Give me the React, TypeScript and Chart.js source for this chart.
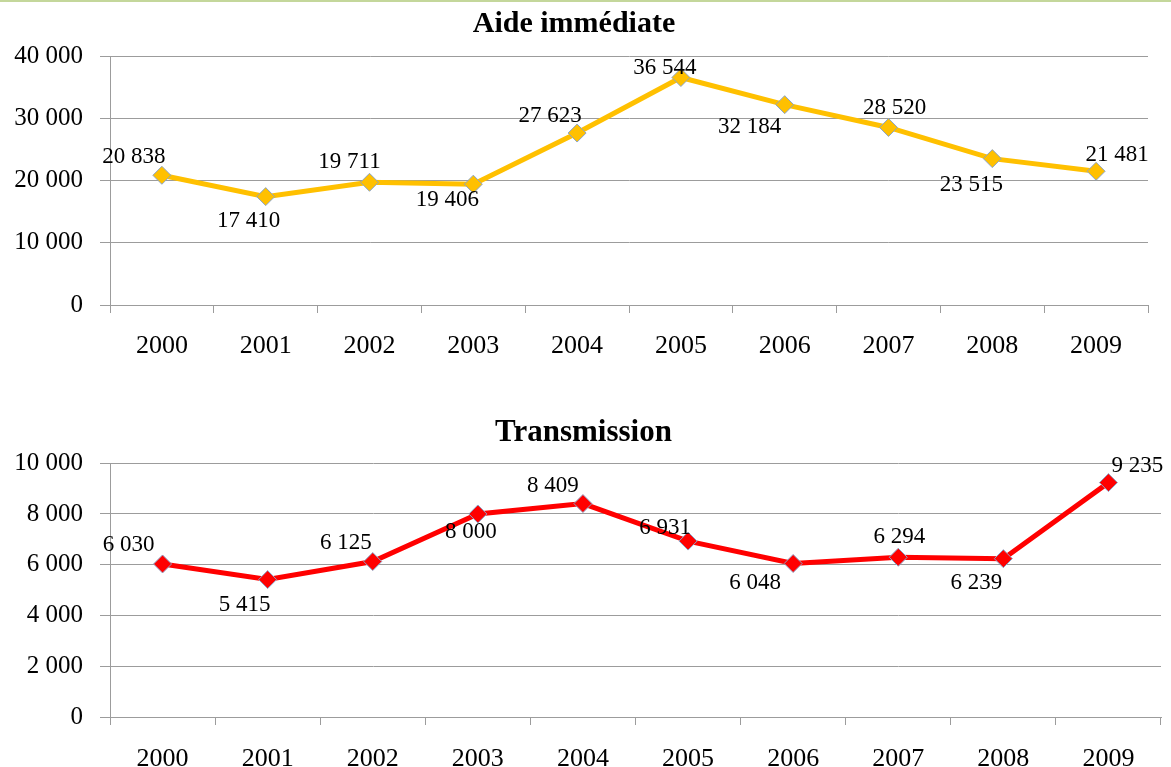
import React, { useEffect, useRef } from 'react';
import { Chart, registerables } from 'chart.js';

Chart.register(...registerables);

const YEARS = ['2000', '2001', '2002', '2003', '2004', '2005', '2006', '2007', '2008', '2009'];
const AIDE_VALUES = [20838, 17410, 19711, 19406, 27623, 36544, 32184, 28520, 23515, 21481];
const TRANS_VALUES = [6030, 5415, 6125, 8000, 8409, 6931, 6048, 6294, 6239, 9235];
const AIDE_Y_MAX = 40000;
const AIDE_Y_STEP = 10000;
const TRANS_Y_MAX = 10000;
const TRANS_Y_STEP = 2000;
const AIDE_TITLE = 'Aide immédiate';
const TRANS_TITLE = 'Transmission';

// label placement relative to each point (styling)
const AIDE_LABEL_OFFSETS = [[-28, -18], [-17, 24], [-20, -20], [-26, 16], [-27, -17], [-16, -10], [-35, 22], [6, -20], [-21, 26], [21, -16]];
const TRANS_LABEL_OFFSETS = [[-34, -19], [-23, 25], [-27, -19], [-7, 18], [-30, -18], [-23, -13], [-38, 19], [1, -20], [-27, 24], [29, -17]];

const FONT = "'Liberation Serif', 'Times New Roman', serif";
const GRID = '#9c9c9c';

const fmt = (v: number) => String(Math.round(v)).replace(/\B(?=(\d{3})+(?!\d))/g, ' ');

const labelsPlugin = {
  id: 'pointLabels',
  afterDatasetsDraw(chart: any, _args: any, opts: any) {
    const ctx = chart.ctx;
    const meta = chart.getDatasetMeta(0);
    const data = chart.data.datasets[0].data as number[];
    const offs = opts.offsets as number[][];
    ctx.save();
    ctx.font = `23px ${FONT}`;
    ctx.fillStyle = '#000';
    ctx.textAlign = 'center';
    ctx.textBaseline = 'middle';
    meta.data.forEach((pt: any, i: number) => {
      const o = offs[i] || [0, -18];
      ctx.fillText(fmt(data[i]), pt.x + o[0], pt.y + o[1]);
    });
    ctx.restore();
  },
};

type Cfg = {
  title: string;
  values: number[];
  max: number;
  step: number;
  color: string;
  offsets: number[][];
  titleSize: number;
  titlePadTop: number;
  titlePadBottom: number;
  xHeight: number;
  xPad: number;
  rightPad: number;
  height: number;
};

function LineChart({ cfg }: { cfg: Cfg }) {
  const ref = useRef<HTMLCanvasElement>(null);
  useEffect(() => {
    if (!ref.current) return;
    const chart = new Chart(ref.current, {
      type: 'line',
      data: {
        labels: YEARS,
        datasets: [
          {
            data: cfg.values,
            borderColor: cfg.color,
            backgroundColor: cfg.color,
            borderWidth: 5,
            pointStyle: 'rectRot',
            pointRadius: 9,
            pointBackgroundColor: cfg.color,
            pointBorderColor: '#8aa4c8',
            pointBorderWidth: 1,
            tension: 0,
          },
        ],
      },
      options: {
        responsive: false,
        animation: false,
        devicePixelRatio: 1,
        layout: { padding: { left: 0, right: cfg.rightPad, top: 0, bottom: 0 } },
        plugins: {
          legend: { display: false },
          tooltip: { enabled: false },
          title: {
            display: true,
            text: cfg.title,
            color: '#000',
            font: { family: FONT, size: cfg.titleSize, weight: 'bold' },
            padding: { top: cfg.titlePadTop, bottom: cfg.titlePadBottom },
          },
          pointLabels: { offsets: cfg.offsets },
        } as any,
        scales: {
          x: {
            offset: true,
            grid: {
              offset: true,
              drawOnChartArea: false,
              drawTicks: true,
              tickLength: 8,
              color: GRID,
            },
            border: { display: true, color: GRID, width: 1 },
            ticks: {
              color: '#000',
              font: { family: FONT, size: 26 },
              padding: cfg.xPad,
              maxRotation: 0,
            },
            afterFit: (s: any) => {
              s.height = cfg.xHeight;
            },
          },
          y: {
            min: 0,
            max: cfg.max,
            grid: { color: GRID, tickLength: 10, drawTicks: true },
            border: { display: true, color: GRID, width: 1 },
            ticks: {
              stepSize: cfg.step,
              color: '#000',
              font: { family: FONT, size: 25 },
              padding: 17,
              callback: (v: any) => fmt(Number(v)),
            },
            afterFit: (s: any) => {
              s.width = 110;
            },
          },
        },
      },
      plugins: [labelsPlugin],
    });
    return () => chart.destroy();
  }, [cfg]);
  return <canvas ref={ref} width={1171} height={cfg.height} style={{ display: 'block' }} />;
}

const TOP_CFG: Cfg = {
  title: AIDE_TITLE,
  values: AIDE_VALUES,
  max: AIDE_Y_MAX,
  step: AIDE_Y_STEP,
  color: '#FFC000',
  offsets: AIDE_LABEL_OFFSETS,
  titleSize: 30,
  titlePadTop: 6,
  titlePadBottom: 14,
  xHeight: 78,
  xPad: 18,
  rightPad: 23,
  height: 383,
};

const BOTTOM_CFG: Cfg = {
  title: TRANS_TITLE,
  values: TRANS_VALUES,
  max: TRANS_Y_MAX,
  step: TRANS_Y_STEP,
  color: '#FF0000',
  offsets: TRANS_LABEL_OFFSETS,
  titleSize: 31,
  titlePadTop: 31,
  titlePadBottom: 12,
  xHeight: 50,
  xPad: 19,
  rightPad: 4,
  height: 384,
};

export default function App() {
  return (
    <div style={{ position: 'absolute', left: 0, top: 0, width: 1171, height: 767, background: '#fff', overflow: 'hidden' }}>
      <div style={{ position: 'absolute', left: 0, top: 0, width: 1171, height: 2, background: '#c4d79b', zIndex: 2 }} />
      <div style={{ position: 'absolute', left: 0, top: 0 }}>
        <LineChart cfg={TOP_CFG} />
      </div>
      <div style={{ position: 'absolute', left: 0, top: 383 }}>
        <LineChart cfg={BOTTOM_CFG} />
      </div>
    </div>
  );
}
